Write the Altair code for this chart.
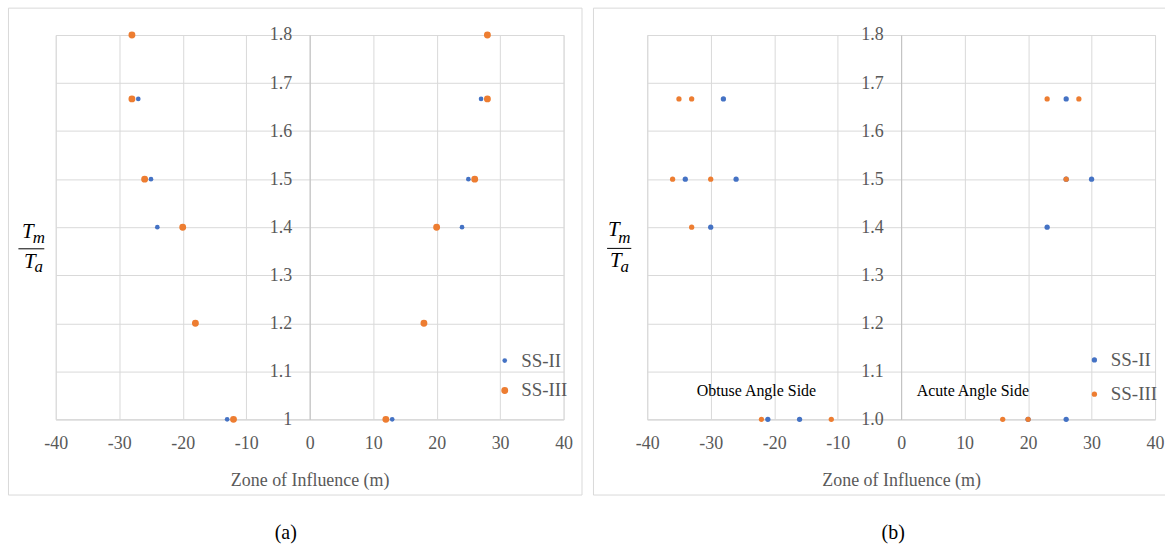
import altair as alt
import pandas as pd

SERIES = ["SS-II", "SS-III"]
COLORS = ["#4472C4", "#ED7D31"]
X_TICKS = [-40, -30, -20, -10, 0, 10, 20, 30, 40]
Y_TICKS = [1.0, 1.1, 1.2, 1.3, 1.4, 1.5, 1.6, 1.7, 1.8]
X_TITLE = "Zone of Influence (m)"

# ---- panel (a) ----
a_ss2_x = [-27, 27, -25, 25, -24, 24, -13, 13]
a_ss2_y = [1.667, 1.667, 1.5, 1.5, 1.4, 1.4, 1.0, 1.0]
a_ss3_x = [-28, 28, -28, 28, -26, 26, -20, 20, -18, 18, -12, 12]
a_ss3_y = [1.8, 1.8, 1.667, 1.667, 1.5, 1.5, 1.4, 1.4, 1.2, 1.2, 1.0, 1.0]

# ---- panel (b) ----
b_ss2_x = [-28, 26, -34, -26, 26, 30, -30, 23, -21, -16, 20, 26]
b_ss2_y = [1.667, 1.667, 1.5, 1.5, 1.5, 1.5, 1.4, 1.4, 1.0, 1.0, 1.0, 1.0]
b_ss3_x = [-35, -33, 23, 28, -36, -30, 26, -33, -22, -11, 16, 20]
b_ss3_y = [1.667, 1.667, 1.667, 1.667, 1.5, 1.5, 1.5, 1.4, 1.0, 1.0, 1.0, 1.0]

b_notes = ["Obtuse Angle Side", "Acute Angle Side"]
b_notes_x = [-22.8, 11.3]
b_notes_y = [1.059, 1.059]

W, H = 510, 386
SERIF = "Liberation Serif"
GRAY_TXT = "#595959"
GRID = "#d9d9d9"


def points_df(x2, y2, x3, y3):
    return pd.DataFrame({
        "zone": list(x2) + list(x3),
        "ratio": list(y2) + list(y3),
        "series": [SERIES[0]] * len(x2) + [SERIES[1]] * len(x3),
    })


one = pd.DataFrame({"k": [0]})


def txt(text, x, y, size, style="normal", color="black", align="center", baseline="alphabetic"):
    return alt.Chart(one).mark_text(
        text=text, font=SERIF, fontSize=size, fontStyle=style, color=color,
        align=align, baseline=baseline
    ).encode(x=alt.value(x), y=alt.value(y))


def rule(x, x2, y, y2):
    return alt.Chart(one).mark_rule(color=GRID, strokeWidth=1).encode(
        x=alt.value(x), x2=alt.value(x2), y=alt.value(y), y2=alt.value(y2))


def fraction(bx0, bx1, by, tn, mn, td, ad):
    bar = alt.Chart(one).mark_rule(color="black", strokeWidth=1).encode(
        x=alt.value(bx0), x2=alt.value(bx1), y=alt.value(by))
    return [
        bar,
        txt("T", tn[0], tn[1], 21, "italic"),
        txt("m", mn[0], mn[1], 17, "italic"),
        txt("T", td[0], td[1], 21, "italic"),
        txt("a", ad[0], ad[1], 17, "italic"),
    ]


def panel(df, y_fmt, sizes, leg_x, leg_y, row_pad, extra_layers):
    pts = alt.Chart(df).mark_circle(opacity=1).encode(
        x=alt.X("zone:Q",
                scale=alt.Scale(domain=[-40, 40], nice=False, zero=False),
                axis=alt.Axis(values=X_TICKS, title=X_TITLE, grid=True, gridColor=GRID,
                              ticks=False, domain=True, domainColor=GRID,
                              labelExpr="'' + datum.value",
                              labelFont=SERIF, labelFontSize=18, labelColor=GRAY_TXT,
                              labelPadding=15, titleFont=SERIF, titleFontSize=18,
                              titleFontWeight="normal", titleColor=GRAY_TXT, titlePadding=19,
                              labelFlush=False)),
        y=alt.Y("ratio:Q",
                scale=alt.Scale(domain=[1.0, 1.8], nice=False, zero=False),
                axis=alt.Axis(values=Y_TICKS, format=y_fmt, title=None, grid=True,
                              gridColor=GRID, ticks=False, tickSize=0, domain=True,
                              domainColor="#bfbfbf", offset=-W / 2,
                              labelFont=SERIF, labelFontSize=18, labelColor=GRAY_TXT,
                              labelPadding=18, labelFlush=False)),
        color=alt.Color("series:N",
                        scale=alt.Scale(domain=SERIES, range=COLORS),
                        legend=alt.Legend(orient="none", legendX=leg_x, legendY=leg_y,
                                          title=None, labelFont=SERIF, labelFontSize=19,
                                          labelColor=GRAY_TXT, symbolSize=24,
                                          symbolType="circle", rowPadding=row_pad,
                                          labelOffset=7, padding=0, symbolStrokeWidth=0)),
        size=alt.Size("series:N", scale=alt.Scale(domain=SERIES, range=sizes), legend=None),
    )
    return alt.layer(*extra_layers, pts).properties(width=W, height=H)


# panel (a)
df_a = points_df(a_ss2_x, a_ss2_y, a_ss3_x, a_ss3_y)
frame_a = alt.Chart(one).mark_rect(fillOpacity=0, stroke=GRID, strokeWidth=1).encode(
    x=alt.value(-47.5), x2=alt.value(528.5), y=alt.value(-27), y2=alt.value(462))
layers_a = [frame_a] + fraction(-37.5, -11.5, 214.7, (-28, 204), (-17, 209), (-26, 234), (-17, 238)) + [
    txt("(a)", 231, 500, 20, baseline="middle")]
chart_a = panel(df_a, "~g", [22, 48], 441.4, 317.5, 10, layers_a)

# panel (b)
df_b = points_df(b_ss2_x, b_ss2_y, b_ss3_x, b_ss3_y)
notes_df = pd.DataFrame({"note": b_notes, "zone": b_notes_x, "ratio": b_notes_y})
notes = alt.Chart(notes_df).mark_text(font=SERIF, fontSize=16, color="black",
                                      baseline="middle").encode(
    x=alt.X("zone:Q", scale=alt.Scale(domain=[-40, 40], nice=False, zero=False)),
    y=alt.Y("ratio:Q", scale=alt.Scale(domain=[1.0, 1.8], nice=False, zero=False)),
    text="note:N")
layers_b = [rule(-54, 520, -27, -27), rule(-54, -54, -27, 462), rule(-54, 520, 462, 462)] + \
    fraction(-40.3, -16, 214.3, (-33.5, 202), (-23, 209), (-31.5, 233), (-22.5, 238)) + [
    txt("(b)", 247, 500, 20, baseline="middle"), notes]
chart_b = panel(df_b, ".1f", [28, 28], 439.6, 316.8, 14.4, layers_b)

chart = alt.hconcat(chart_a, chart_b, spacing=9).resolve_scale(
    color="independent", size="independent").resolve_legend(color="independent").properties(
    padding={"left": 7, "top": 6, "right": 0, "bottom": 0}
).configure_view(stroke=None).configure(background="white", font=SERIF).configure_axis(
    labelFont=SERIF, titleFont=SERIF).configure_legend(labelFont=SERIF)

chart.save("out.html", embed_options={"renderer": "svg", "actions": False})
